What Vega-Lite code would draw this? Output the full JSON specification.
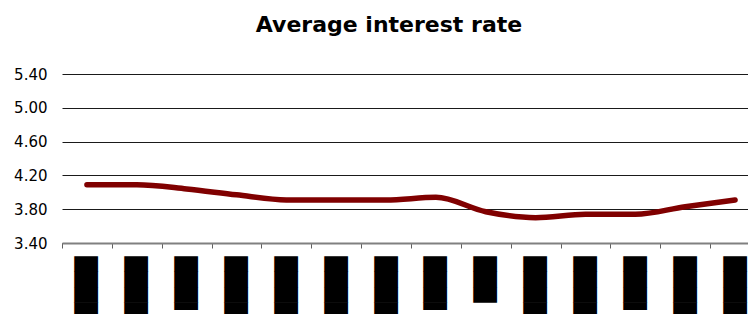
{
  "$schema": "https://vega.github.io/schema/vega-lite/v6.json",
  "autosize": {"type": "none"},
  "width": 686,
  "height": 169,
  "padding": {"left": 62, "top": 74, "right": 0, "bottom": 71},
  "background": "white",
  "title": {
    "text": "Average interest rate",
    "font": "DejaVu Sans",
    "fontSize": 22,
    "fontWeight": "bold",
    "color": "black",
    "anchor": "middle",
    "frame": "group",
    "dx": -16,
    "offset": 30
  },
  "data": {
    "values": [
      {"period": "1", "label": "█████", "rate": 4.09},
      {"period": "2", "label": "█████", "rate": 4.09},
      {"period": "3", "label": "▐███", "rate": 4.04},
      {"period": "4", "label": "████", "rate": 3.97},
      {"period": "5", "label": "█████", "rate": 3.91},
      {"period": "6", "label": "████", "rate": 3.91},
      {"period": "7", "label": "█████", "rate": 3.91},
      {"period": "8", "label": "▐███", "rate": 3.94},
      {"period": "9", "label": "███", "rate": 3.77},
      {"period": "10", "label": "█████", "rate": 3.70},
      {"period": "11", "label": "████", "rate": 3.74},
      {"period": "12", "label": "▐███", "rate": 3.74},
      {"period": "13", "label": "█████", "rate": 3.83},
      {"period": "14", "label": "█████", "rate": 3.91}
    ]
  },
  "mark": {"type": "line", "color": "#800000", "strokeWidth": 5.5, "strokeCap": "round", "strokeJoin": "round", "interpolate": "monotone"},
  "encoding": {
    "x": {
      "field": "period",
      "type": "ordinal",
      "sort": null,
      "scale": {"type": "band", "range": [0, 698], "paddingInner": 0, "paddingOuter": 0},
      "axis": {
        "title": null,
        "labelExpr": "['█████','█████','▐███','████','█████','████','█████','▐███','███','█████','████','▐███','█████','█████'][toNumber(datum.value)-1]",
        "labelAngle": -90,
        "labelAlign": "right",
        "labelBaseline": "middle",
        "labelFont": "DejaVu Sans",
        "labelFontSize": 20,
        "labelColor": "black",
        "labelPadding": 8,
        "labelOverlap": false,
        "labelLimit": 0,
        "tickBand": "extent",
        "tickSize": 5,
        "tickColor": "#606060",
        "tickWidth": 1,
        "domainColor": "#808080",
        "domainWidth": 2,
        "grid": false
      }
    },
    "y": {
      "field": "rate",
      "type": "quantitative",
      "scale": {"domain": [3.4, 5.4], "nice": false, "zero": false},
      "axis": {
        "title": null,
        "values": [3.4, 3.8, 4.2, 4.6, 5.0, 5.4],
        "format": ".2f",
        "grid": true,
        "gridColor": "#1a1a1a",
        "gridWidth": 1,
        "domain": false,
        "ticks": false,
        "labelPadding": 15,
        "labelFont": "DejaVu Sans",
        "labelFontSize": 15,
        "labelColor": "black"
      }
    }
  },
  "config": {"view": {"stroke": null}}
}
